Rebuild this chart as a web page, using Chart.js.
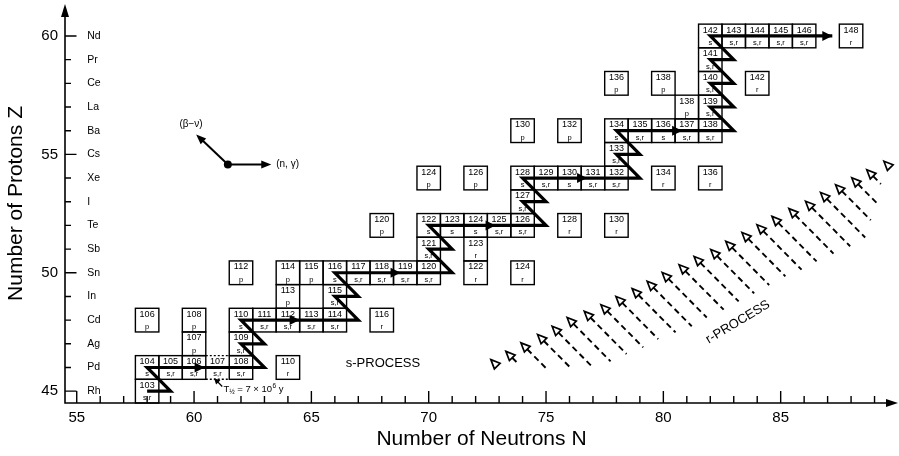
<!DOCTYPE html>
<html>
<head>
<meta charset="utf-8">
<script src="https://cdn.jsdelivr.net/npm/chart.js@4.4.1/dist/chart.umd.min.js"></script>
<style>
  html, body { margin: 0; padding: 0; background: #fff; }
</style>
</head>
<body>
<canvas id="nucChart" width="899" height="456"></canvas>
<script>
const FONT = '"Liberation Sans", Arial, Helvetica, sans-serif';

// axis ticks
const xMajorTicks = [55, 60, 65, 70, 75, 80, 85];
const yMajorTicks = [45, 50, 55, 60];
const xMinorTicks = [55, 56, 57, 58, 59, 60, 61, 62, 63, 64, 65, 66, 67, 68, 69, 70, 71, 72, 73, 74, 75, 76, 77, 78, 79, 80, 81, 82, 83, 84, 85, 86, 87, 88, 89];
const elementZ = [45, 46, 47, 48, 49, 50, 51, 52, 53, 54, 55, 56, 57, 58, 59, 60];
const elementNames = ['Rh', 'Pd', 'Ag', 'Cd', 'In', 'Sn', 'Sb', 'Te', 'I', 'Xe', 'Cs', 'Ba', 'La', 'Ce', 'Pr', 'Nd'];

// isotopes on the chart: proton number, neutron number, mass number, process
const isoZ = [45,
  46, 46, 46, 46, 46, 46,
  47, 47,
  48, 48, 48, 48, 48, 48, 48, 48,
  49, 49,
  50, 50, 50, 50, 50, 50, 50, 50, 50, 50,
  51, 51,
  52, 52, 52, 52, 52, 52, 52, 52,
  53,
  54, 54, 54, 54, 54, 54, 54, 54, 54,
  55,
  56, 56, 56, 56, 56, 56, 56,
  57, 57,
  58, 58, 58, 58,
  59,
  60, 60, 60, 60, 60, 60];
const isoN = [58,
  58, 59, 60, 61, 62, 64,
  60, 62,
  58, 60, 62, 63, 64, 65, 66, 68,
  64, 66,
  62, 64, 65, 66, 67, 68, 69, 70, 72, 74,
  70, 72,
  68, 70, 71, 72, 73, 74, 76, 78,
  74,
  70, 72, 74, 75, 76, 77, 78, 80, 82,
  78,
  74, 76, 78, 79, 80, 81, 82,
  81, 82,
  78, 80, 82, 84,
  82,
  82, 83, 84, 85, 86, 88];
const isoA = [103,
  104, 105, 106, 107, 108, 110,
  107, 109,
  106, 108, 110, 111, 112, 113, 114, 116,
  113, 115,
  112, 114, 115, 116, 117, 118, 119, 120, 122, 124,
  121, 123,
  120, 122, 123, 124, 125, 126, 128, 130,
  127,
  124, 126, 128, 129, 130, 131, 132, 134, 136,
  133,
  130, 132, 134, 135, 136, 137, 138,
  138, 139,
  136, 138, 140, 142,
  141,
  142, 143, 144, 145, 146, 148];
const isoProc = ['s,r',
  's', 's,r', 's,r', 's,r', 's,r', 'r',
  'p', 's,r',
  'p', 'p', 's', 's,r', 's,r', 's,r', 's,r', 'r',
  'p', 's,r',
  'p', 'p', 'p', 's', 's,r', 's,r', 's,r', 's,r', 'r', 'r',
  's,r', 'r',
  'p', 's', 's', 's', 's,r', 's,r', 'r', 'r',
  's,r',
  'p', 'p', 's', 's,r', 's', 's,r', 's,r', 'r', 'r',
  's,r',
  'p', 'p', 's', 's,r', 's', 's,r', 's,r',
  'p', 's,r',
  'p', 'p', 's,r', 'r',
  's,r',
  's', 's,r', 's,r', 's,r', 's,r', 'r'];
// radioactive branching point (dotted cell)
const unstableN = [61];
const unstableZ = [46];

// s-process path (n,gamma) and beta decays
const pathN = [58, 59, 58, 63, 62, 63, 62, 67, 66, 67, 66, 71, 70, 71, 70, 75, 74, 75, 74, 79, 78, 79, 78, 83, 82, 83, 82, 83, 82, 83, 82, 87.2];
const pathZ = [45, 45, 46, 46, 47, 47, 48, 48, 49, 49, 50, 50, 51, 51, 52, 52, 53, 53, 54, 54, 55, 55, 56, 56, 57, 57, 58, 58, 59, 59, 60, 60];
const pathArrowN = [60.45, 64.5, 68.8, 72.85, 76.75, 80.8, 87.2];
const pathArrowZ = [46, 48, 50, 52, 54, 56, 60];

// r-process decay arrows: head position and tail length (in N units)
const rHeadN = [72.65, 73.29, 73.93, 74.64, 75.26, 75.90, 76.63, 77.34, 77.98, 78.67, 79.31, 79.95, 80.67, 81.31, 82.02, 82.66, 83.35, 83.99, 84.63, 85.35, 86.06, 86.70, 87.34, 88.03, 88.67, 89.40];
const rHeadZ = [46.33, 46.68, 47.04, 47.39, 47.74, 48.11, 48.37, 48.65, 49.00, 49.33, 49.64, 50.01, 50.34, 50.69, 50.98, 51.33, 51.70, 52.03, 52.38, 52.71, 53.02, 53.39, 53.72, 54.01, 54.35, 54.71];
const rTail = [0.25, 0.55, 1.05, 1.4, 1.75, 1.85, 1.8, 1.8, 1.8, 1.85, 1.9, 1.9, 1.9, 1.9, 1.85, 1.85, 1.85, 1.9, 1.9, 1.9, 1.9, 1.9, 1.5, 1.15, 0.6, 0.2];

function arrowHead(ctx, tipX, tipY, fromX, fromY, len, half, open) {
  const ang = Math.atan2(tipY - fromY, tipX - fromX);
  const bx = tipX - len * Math.cos(ang), by = tipY - len * Math.sin(ang);
  const px = -Math.sin(ang) * half, py = Math.cos(ang) * half;
  ctx.beginPath();
  ctx.moveTo(tipX, tipY);
  ctx.lineTo(bx + px, by + py);
  ctx.lineTo(bx - px, by - py);
  ctx.closePath();
  if (open) {
    ctx.fillStyle = '#fff';
    ctx.fill();
    ctx.stroke();
  } else {
    ctx.fillStyle = '#000';
    ctx.fill();
  }
  return [bx, by];
}

// draws cells, axes, annotations
const nuclidePlugin = {
  id: 'nuclides',
  beforeDatasetsDraw(chart) {
    const { ctx, scales: { x, y } } = chart;
    ctx.save();
    ctx.strokeStyle = '#000';
    ctx.fillStyle = '#000';
    ctx.lineWidth = 1.4;
    ctx.textAlign = 'center';
    ctx.textBaseline = 'middle';
    for (let i = 0; i < isoA.length; i++) {
      const x0 = x.getPixelForValue(isoN[i] - 0.5), x1 = x.getPixelForValue(isoN[i] + 0.5);
      const y0 = y.getPixelForValue(isoZ[i] + 0.5), y1 = y.getPixelForValue(isoZ[i] - 0.5);
      const dotted = unstableN.some((n, k) => n === isoN[i] && unstableZ[k] === isoZ[i]);
      if (dotted) {
        ctx.setLineDash([2, 2]);
        ctx.beginPath();
        ctx.moveTo(x0, y0); ctx.lineTo(x1, y0);
        ctx.moveTo(x0, y1); ctx.lineTo(x1, y1);
        ctx.stroke();
        ctx.setLineDash([]);
      } else {
        ctx.strokeRect(x0, y0, x1 - x0, y1 - y0);
      }
      const cx = (x0 + x1) / 2;
      ctx.font = '9px ' + FONT;
      ctx.fillText(String(isoA[i]), cx, y0 + 6);
      ctx.font = '7.5px ' + FONT;
      ctx.fillText(isoProc[i], cx, y1 - 5);
    }
    ctx.restore();
  },
  afterDatasetsDraw(chart) {
    const { ctx, chartArea: area, scales: { x, y } } = chart;
    ctx.save();
    ctx.strokeStyle = '#000';
    ctx.fillStyle = '#000';

    // arrowheads on the s-process path
    pathArrowN.forEach((n, i) => {
      const tx = x.getPixelForValue(n), ty = y.getPixelForValue(pathArrowZ[i]);
      arrowHead(ctx, tx, ty, tx - 10, ty, 10, 5, false);
    });

    // r-process arrows
    ctx.lineWidth = 1.7;
    rHeadN.forEach((n, i) => {
      const hx = x.getPixelForValue(n), hy = y.getPixelForValue(rHeadZ[i]);
      const ex = x.getPixelForValue(n + rTail[i]), ey = y.getPixelForValue(rHeadZ[i] - rTail[i]);
      ctx.setLineDash([]);
      const [bx, by] = arrowHead(ctx, hx, hy, ex, ey, 9, 4, true);
      if (Math.hypot(ex - hx, ey - hy) > 10) {
        ctx.lineWidth = 1.9;
        ctx.setLineDash([6, 4]);
        ctx.beginPath();
        ctx.moveTo(bx, by);
        ctx.lineTo(ex, ey);
        ctx.stroke();
        ctx.lineWidth = 1.7;
      }
    });
    ctx.setLineDash([]);

    // axes with arrows
    ctx.lineWidth = 1.6;
    ctx.beginPath();
    ctx.moveTo(area.left, area.top + 8);
    ctx.lineTo(area.left, area.bottom);
    ctx.lineTo(area.right - 8, area.bottom);
    ctx.stroke();
    arrowHead(ctx, area.right, area.bottom, area.left, area.bottom, 12, 4, false);
    arrowHead(ctx, area.left, area.top, area.left, area.bottom, 13, 4, false);

    // ticks pointing inward
    ctx.lineWidth = 1.4;
    ctx.beginPath();
    xMinorTicks.forEach(v => {
      const px = x.getPixelForValue(v);
      const len = xMajorTicks.includes(v) ? 12 : 7;
      ctx.moveTo(px, area.bottom);
      ctx.lineTo(px, area.bottom - len);
    });
    elementZ.forEach(v => {
      const py = y.getPixelForValue(v);
      const len = yMajorTicks.includes(v) ? 11.5 : 6;
      ctx.moveTo(area.left, py);
      ctx.lineTo(area.left + len, py);
    });
    ctx.stroke();

    // element symbols
    ctx.font = '10.5px ' + FONT;
    ctx.textAlign = 'left';
    ctx.textBaseline = 'middle';
    elementZ.forEach((z, i) => {
      ctx.fillText(elementNames[i], x.getPixelForValue(55.45), y.getPixelForValue(z));
    });

    // legend for reaction directions
    const dx = x.getPixelForValue(61.44), dy = y.getPixelForValue(54.57);
    ctx.lineWidth = 2;
    ctx.beginPath();
    ctx.arc(dx, dy, 4, 0, Math.PI * 2);
    ctx.fill();
    const nx = x.getPixelForValue(63.29);
    ctx.beginPath(); ctx.moveTo(dx, dy); ctx.lineTo(nx - 8, dy); ctx.stroke();
    arrowHead(ctx, nx, dy, dx, dy, 10, 4, false);
    const bxp = x.getPixelForValue(60.09), byp = y.getPixelForValue(55.84);
    const [bbx, bby] = [bxp + (dx - bxp) * 0.22, byp + (dy - byp) * 0.22];
    ctx.beginPath(); ctx.moveTo(dx, dy); ctx.lineTo(bbx, bby); ctx.stroke();
    arrowHead(ctx, bxp, byp, dx, dy, 10, 4, false);
    ctx.font = '10px ' + FONT;
    ctx.textAlign = 'left';
    ctx.fillText('(n, \u03b3)', x.getPixelForValue(63.5), dy);
    ctx.textAlign = 'center';
    ctx.fillText('(\u03b2\u2212\u03bd)', x.getPixelForValue(59.87), y.getPixelForValue(56.26));

    // half-life note at Pd-107
    const tx0 = x.getPixelForValue(61.2), ty0 = y.getPixelForValue(45.2);
    const tx1 = x.getPixelForValue(60.85), ty1 = y.getPixelForValue(45.55);
    ctx.lineWidth = 1.3;
    ctx.beginPath(); ctx.moveTo(tx0, ty0); ctx.lineTo(tx1 + 3, ty1 + 3); ctx.stroke();
    arrowHead(ctx, tx1, ty1, tx0, ty0, 6, 3, false);
    let cx = x.getPixelForValue(61.25);
    const base = y.getPixelForValue(44.97);
    ctx.textAlign = 'left';
    ctx.textBaseline = 'alphabetic';
    ctx.font = '9.5px ' + FONT;
    ctx.fillText('T', cx, base); cx += ctx.measureText('T').width;
    ctx.font = '6.5px ' + FONT;
    ctx.fillText('\u00bd', cx, base + 2); cx += ctx.measureText('\u00bd').width;
    ctx.font = '9.5px ' + FONT;
    ctx.fillText(' = 7 \u00d7 10', cx, base); cx += ctx.measureText(' = 7 \u00d7 10').width;
    ctx.font = '6.5px ' + FONT;
    ctx.fillText('6', cx + 0.5, base - 4); cx += ctx.measureText('6').width + 0.5;
    ctx.font = '9.5px ' + FONT;
    ctx.fillText(' y', cx, base);

    // process labels
    ctx.font = '13px ' + FONT;
    ctx.textAlign = 'center';
    ctx.textBaseline = 'middle';
    ctx.fillText('s-PROCESS', x.getPixelForValue(68.05), y.getPixelForValue(46.16));
    ctx.save();
    ctx.translate(x.getPixelForValue(83.18), y.getPixelForValue(47.92));
    ctx.rotate(-31 * Math.PI / 180);
    ctx.fillText('r-PROCESS', 0, 0);
    ctx.restore();

    ctx.restore();
  }
};

const ctx = document.getElementById('nucChart').getContext('2d');
const nucChart = new Chart(ctx, {
  type: 'scatter',
  data: {
    datasets: [{
      label: 's-process path',
      data: pathN.map((n, i) => ({ x: n, y: pathZ[i] })),
      showLine: true,
      borderColor: '#000',
      borderWidth: 3.2,
      borderJoinStyle: 'miter',
      pointRadius: 0,
      tension: 0
    }]
  },
  options: {
    responsive: false,
    animation: false,
    devicePixelRatio: 1,
    layout: { padding: { top: 4, right: 1, left: 0, bottom: 0 } },
    plugins: {
      legend: { display: false },
      tooltip: { enabled: false }
    },
    scales: {
      x: {
        type: 'linear',
        min: 54.5,
        max: 90,
        grid: { display: false, drawTicks: false },
        border: { display: false },
        afterBuildTicks: s => { s.ticks = xMajorTicks.map(v => ({ value: v })); },
        afterFit: s => { s.height = 53; s.paddingLeft = 0; s.paddingRight = 0; },
        ticks: { color: '#000', font: { family: FONT, size: 15 }, padding: 6, maxRotation: 0, autoSkip: false },
        title: { display: true, text: 'Number of Neutrons N', color: '#000', font: { family: FONT, size: 21 } }
      },
      y: {
        type: 'linear',
        min: 44.5,
        max: 61.35,
        grid: { display: false, drawTicks: false },
        border: { display: false },
        afterBuildTicks: s => { s.ticks = yMajorTicks.map(v => ({ value: v })); },
        afterFit: s => { s.width = 65; s.paddingTop = 0; s.paddingBottom = 0; },
        ticks: { color: '#000', font: { family: FONT, size: 15 }, padding: 7, autoSkip: false },
        title: { display: true, text: 'Number of Protons Z', color: '#000', font: { family: FONT, size: 21 } }
      }
    }
  },
  plugins: [nuclidePlugin]
});
</script>
</body>
</html>
